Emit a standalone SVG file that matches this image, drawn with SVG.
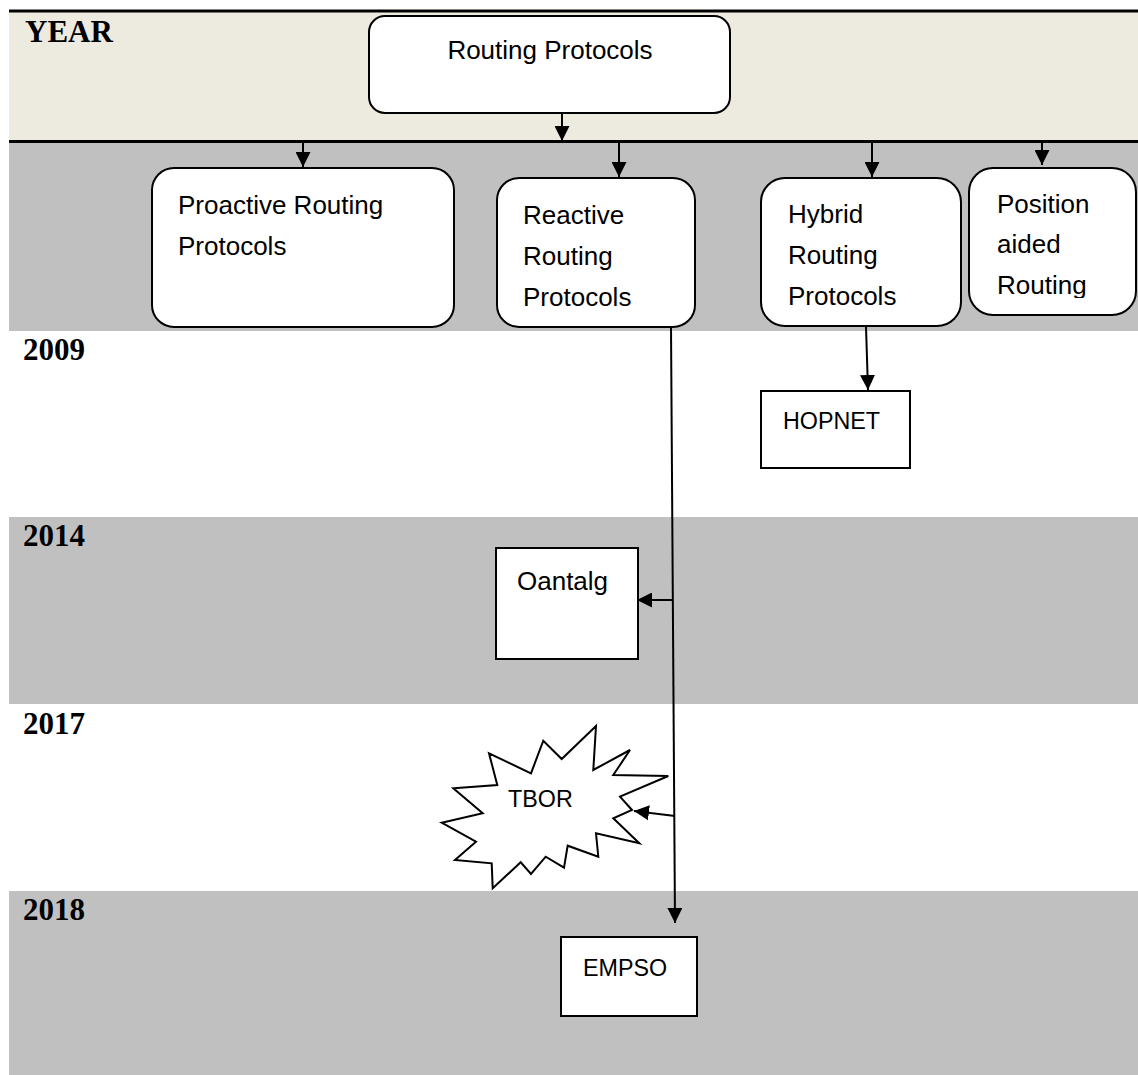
<svg xmlns="http://www.w3.org/2000/svg" width="1138" height="1075" viewBox="0 0 1138 1075">
  <style>
    .year { font-family: "Liberation Serif", "Times New Roman", serif; font-weight: bold; font-size: 31px; fill: #000; }
    .lbl { font-family: "Liberation Sans", Arial, sans-serif; font-size: 26px; fill: #000; }
    .cap { font-family: "Liberation Sans", Arial, sans-serif; font-size: 23.3px; fill: #000; }
    .node { fill: #fff; stroke: #000; stroke-width: 2; }
    .edge { fill: none; stroke: #000; stroke-width: 2; }
    .rule { stroke: #000; stroke-width: 3; }
  </style>
  <defs>
    <marker id="arrow" markerUnits="userSpaceOnUse" markerWidth="15" markerHeight="15" viewBox="0 0 10 10" refX="10" refY="5" orient="auto">
      <path d="M0,0 L10,5 L0,10 z" fill="#000"/>
    </marker>
    <clipPath id="posClip">
      <rect x="969" y="168" width="168" height="130"/>
    </clipPath>
  </defs>

  <!-- year bands -->
  <g id="bands">
    <rect x="9" y="11" width="1129" height="131" fill="#EDEADF"/>
    <rect x="9" y="142" width="1129" height="189" fill="#C0C0C0"/>
    <rect x="9" y="517" width="1129" height="187" fill="#C0C0C0"/>
    <rect x="9" y="891" width="1129" height="184" fill="#C0C0C0"/>
    <line class="rule" x1="9" y1="11" x2="1138" y2="11"/>
    <line class="rule" x1="9" y1="141.5" x2="1138" y2="141.5"/>
  </g>

  <g id="years">
    <text class="year" x="25" y="42">YEAR</text>
    <text class="year" x="23" y="360">2009</text>
    <text class="year" x="23" y="546">2014</text>
    <text class="year" x="23" y="734">2017</text>
    <text class="year" x="23" y="920">2018</text>
  </g>

  <g id="routing-protocols">
    <rect class="node" x="369" y="16" width="361" height="97" rx="16"/>
    <text class="lbl" x="550" y="59" text-anchor="middle">Routing Protocols</text>
  </g>

  <g id="proactive">
    <rect class="node" x="152" y="168" width="302" height="159" rx="22"/>
    <text class="lbl" x="178" y="214">Proactive Routing</text>
    <text class="lbl" x="178" y="255">Protocols</text>
  </g>

  <g id="reactive">
    <rect class="node" x="497" y="178" width="198" height="149" rx="22"/>
    <text class="lbl" x="523" y="224">Reactive</text>
    <text class="lbl" x="523" y="265">Routing</text>
    <text class="lbl" x="523" y="306">Protocols</text>
  </g>

  <g id="hybrid">
    <rect class="node" x="761" y="178" width="200" height="148" rx="24"/>
    <text class="lbl" x="788" y="223">Hybrid</text>
    <text class="lbl" x="788" y="264">Routing</text>
    <text class="lbl" x="788" y="305">Protocols</text>
  </g>

  <g id="position">
    <rect class="node" x="969" y="168" width="167" height="147" rx="24"/>
    <g clip-path="url(#posClip)">
      <text class="lbl" x="997" y="213">Position</text>
      <text class="lbl" x="997" y="253">aided</text>
      <text class="lbl" x="997" y="294">Routing</text>
    </g>
  </g>

  <g id="hopnet">
    <rect class="node" x="761" y="391" width="149" height="77"/>
    <text class="cap" x="783" y="429">HOPNET</text>
  </g>

  <g id="oantalg">
    <rect class="node" x="496" y="548" width="142" height="111"/>
    <text class="lbl" x="517" y="590">Oantalg</text>
  </g>

  <g id="tbor">
    <polygon class="node" points="441.7,822.7 482.7,813.3 453.3,788.3 497.3,785 489,753.3 531,773.3 543.3,740.7 561.7,759 596,726 593.3,770 630,750 613.3,775 668.3,776 620,796.7 632,810 613.3,818.3 639.3,843.3 596,833.3 598.3,856.7 567.7,845.7 564,867.7 545.7,856.7 531,874 520.7,862.3 492.7,888.3 491.7,863.3 455,860 476,841.7"/>
    <text class="cap" x="508" y="807">TBOR</text>
  </g>

  <g id="empso">
    <rect class="node" x="561" y="937" width="136" height="79"/>
    <text class="cap" x="583" y="976">EMPSO</text>
  </g>

  <g id="connectors">
    <line class="edge" x1="562" y1="113" x2="562" y2="141" marker-end="url(#arrow)"/>
    <line class="edge" x1="303" y1="143" x2="303" y2="167" marker-end="url(#arrow)"/>
    <line class="edge" x1="619" y1="143" x2="619" y2="177" marker-end="url(#arrow)"/>
    <line class="edge" x1="872" y1="143" x2="872" y2="177" marker-end="url(#arrow)"/>
    <line class="edge" x1="1042" y1="143" x2="1042" y2="165" marker-end="url(#arrow)"/>
    <line class="edge" x1="866" y1="327" x2="868" y2="390" marker-end="url(#arrow)"/>
    <line class="edge" x1="671" y1="327" x2="675" y2="923" marker-end="url(#arrow)"/>
    <line class="edge" x1="673" y1="600" x2="637" y2="600" marker-end="url(#arrow)"/>
    <line class="edge" x1="675" y1="816" x2="634" y2="811" marker-end="url(#arrow)"/>
  </g>
</svg>
